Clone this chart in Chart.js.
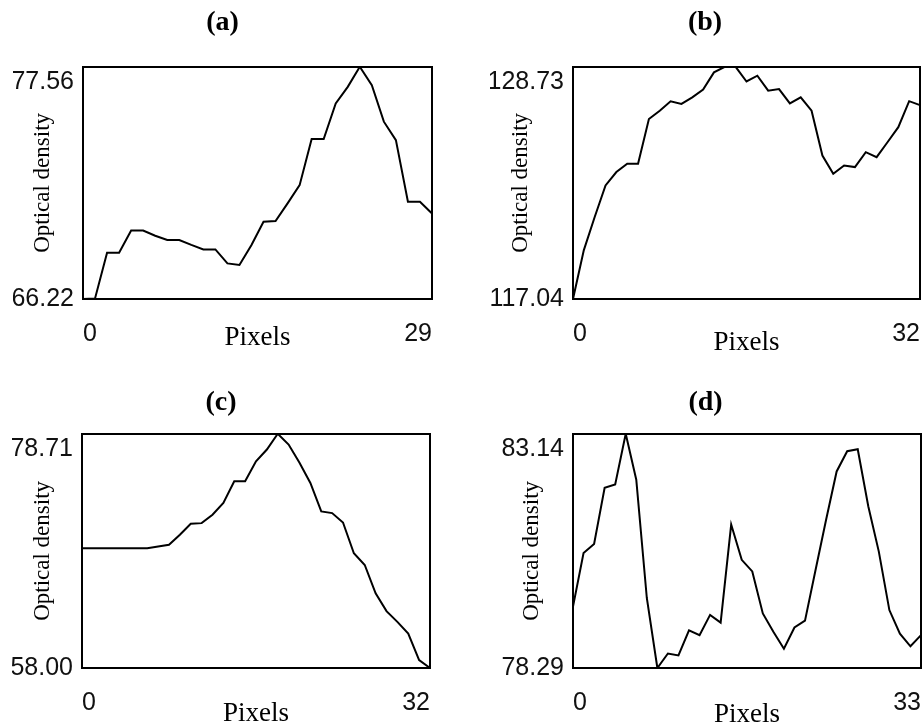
<!DOCTYPE html>
<html>
<head>
<meta charset="utf-8">
<script src="https://cdn.jsdelivr.net/npm/chart.js@4/dist/chart.umd.min.js"></script>
<style>
html, body { margin:0; padding:0; background:#fff; overflow:hidden; width:924px; height:727px; }
.panel { position:absolute; }
canvas { display:block; }
</style>
</head>
<body>
<div class="panel" style="left:0px;top:0px;width:460px;height:360px"><canvas id="chartA" width="460" height="360"></canvas></div>
<div class="panel" style="left:480px;top:0px;width:474px;height:360px"><canvas id="chartB" width="474" height="360"></canvas></div>
<div class="panel" style="left:0px;top:380px;width:460px;height:347px"><canvas id="chartC" width="460" height="347"></canvas></div>
<div class="panel" style="left:480px;top:380px;width:474px;height:347px"><canvas id="chartD" width="474" height="347"></canvas></div>
<script>
// ---- data (pixel index along profile, optical density) ----
const pixelsA = [0,1,2,3,4,5,6,7,8,9,10,11,12,13,14,15,16,17,18,19,20,21,22,23,24,25,26,27,28,29];
const densityA = [66.22,66.25,68.48,68.48,69.56,69.56,69.31,69.10,69.10,68.86,68.64,68.64,67.96,67.88,68.86,69.99,70.03,70.89,71.78,74.03,74.03,75.77,76.58,77.56,76.66,74.88,73.98,70.97,70.97,70.40];
const yRangeA = [66.22, 77.56];

const pixelsB = [0,1,2,3,4,5,6,7,8,9,10,11,12,13,14,15,16,17,18,19,20,21,22,23,24,25,26,27,28,29,30,31,32];
const densityB = [117.04,119.50,121.17,122.76,123.43,123.85,123.85,126.10,126.52,126.99,126.86,127.19,127.58,128.45,128.73,128.73,127.99,128.28,127.53,127.61,126.89,127.19,126.52,124.26,123.34,123.76,123.68,124.43,124.18,124.93,125.69,127.00,126.80];
const yRangeB = [117.04, 128.73];

const pixelsC = [0,1,2,3,4,5,6,7,8,9,10,11,12,13,14,15,16,17,18,19,20,21,22,23,24,25,26,27,28,29,30,31,32];
const densityC = [68.59,68.59,68.59,68.59,68.59,68.59,68.59,68.74,68.89,69.78,70.75,70.81,71.55,72.59,74.51,74.51,76.28,77.32,78.71,77.76,76.14,74.36,71.85,71.70,70.87,68.15,67.11,64.60,63.03,62.08,61.05,58.70,58.00];
const yRangeC = [58.00, 78.71];

const pixelsD = [0,1,2,3,4,5,6,7,8,9,10,11,12,13,14,15,16,17,18,19,20,21,22,23,24,25,26,27,28,29,30,31,32,33];
const densityD = [79.56,80.67,80.86,82.02,82.09,83.14,82.19,79.74,78.29,78.59,78.55,79.07,78.97,79.39,79.23,81.26,80.53,80.29,79.42,79.04,78.69,79.13,79.27,80.32,81.36,82.36,82.78,82.82,81.64,80.70,79.49,79.00,78.74,78.97];
const yRangeD = [78.29, 83.14];

const panelTitles = ['(a)', '(b)', '(c)', '(d)'];
const xAxisTitle = 'Pixels';
const yAxisTitle = 'Optical density';

// ---- styling ----
const tickFamily = "'Liberation Sans', Arial, sans-serif";
const serifFamily = "'Liberation Serif', 'Times New Roman', 'DejaVu Serif', serif";

function makePanel(canvasId, title, pixels, values, yRange, lay) {
  new Chart(document.getElementById(canvasId), {
    type: 'line',
    data: {
      labels: pixels,
      datasets: [{
        data: values,
        borderColor: '#000',
        borderWidth: 2,
        pointRadius: 0,
        tension: 0,
        fill: false,
        xAxisID: 'x',
        yAxisID: 'y'
      }]
    },
    options: {
      responsive: false,
      animation: false,
      devicePixelRatio: 1,
      events: [],
      layout: { padding: { left: lay.pl, right: lay.pr, top: 0, bottom: lay.pb } },
      plugins: {
        legend: { display: false },
        tooltip: { enabled: false },
        title: {
          display: true,
          text: title,
          color: '#000',
          font: { family: serifFamily, size: 28, weight: 'bold', lineHeight: 1.1 },
          padding: { top: lay.tt, bottom: lay.tb }
        }
      },
      scales: {
        x: {
          type: 'category',
          offset: false,
          grid: { display: false, drawTicks: false },
          border: { display: true, color: '#000', width: 2 },
          afterBuildTicks: s => { const t = s.ticks; s.ticks = [t[0], t[t.length - 1]]; },
          afterFit: s => { s.height = 53; },
          ticks: {
            autoSkip: false, maxRotation: 0, align: 'inner', padding: 20, color: '#111',
            font: { family: tickFamily, size: 25, lineHeight: 1.2 }
          },
          title: {
            display: true, text: xAxisTitle, color: '#000',
            font: { family: serifFamily, size: 27, lineHeight: 1.2 },
            padding: { top: 0, bottom: lay.xtb }
          }
        },
        y: {
          type: 'linear',
          min: yRange[0],
          max: yRange[1],
          grid: { display: false, drawTicks: false },
          border: { display: true, color: '#000', width: 2 },
          afterBuildTicks: s => { s.ticks = [{ value: yRange[0] }, { value: yRange[1] }]; },
          afterFit: s => { s.width = lay.yw; },
          ticks: {
            padding: 9, color: '#111',
            font: { family: tickFamily, size: 25, lineHeight: 1.2 },
            callback: (v, i, arr) => i === arr.length - 1 ? ['', Number(v).toFixed(2)] : Number(v).toFixed(2)
          },
          title: {
            display: true, text: yAxisTitle, color: '#000',
            font: { family: serifFamily, size: 23, lineHeight: 1.2 },
            padding: { top: lay.ytt, bottom: 0 }
          }
        },
        x2: {
          type: 'linear', position: 'top',
          grid: { display: false, drawTicks: false },
          border: { display: true, color: '#000', width: 2 },
          ticks: { display: false },
          afterFit: s => { s.height = 0; }
        },
        y2: {
          type: 'linear', position: 'right',
          grid: { display: false, drawTicks: false },
          border: { display: true, color: '#000', width: 2 },
          ticks: { display: false },
          afterFit: s => { s.width = 0; }
        }
      }
    }
  });
}

makePanel('chartA', panelTitles[0], pixelsA, densityA, yRangeA,
  { pl: 13, pr: 28, pb: 8, tt: 7, tb: 29, yw: 70, xtb: -2, ytt: 16 });
makePanel('chartB', panelTitles[1], pixelsB, densityB, yRangeB,
  { pl: 10, pr: 34, pb: 8, tt: 7, tb: 29, yw: 83, xtb: -7, ytt: 17 });
makePanel('chartC', panelTitles[2], pixelsC, densityC, yRangeC,
  { pl: 12, pr: 30, pb: 6, tt: 7, tb: 16, yw: 70, xtb: -9, ytt: 17 });
makePanel('chartD', panelTitles[3], pixelsD, densityD, yRangeD,
  { pl: 10, pr: 33, pb: 6, tt: 7, tb: 16, yw: 83, xtb: -10, ytt: 28 });
</script>
</body>
</html>
